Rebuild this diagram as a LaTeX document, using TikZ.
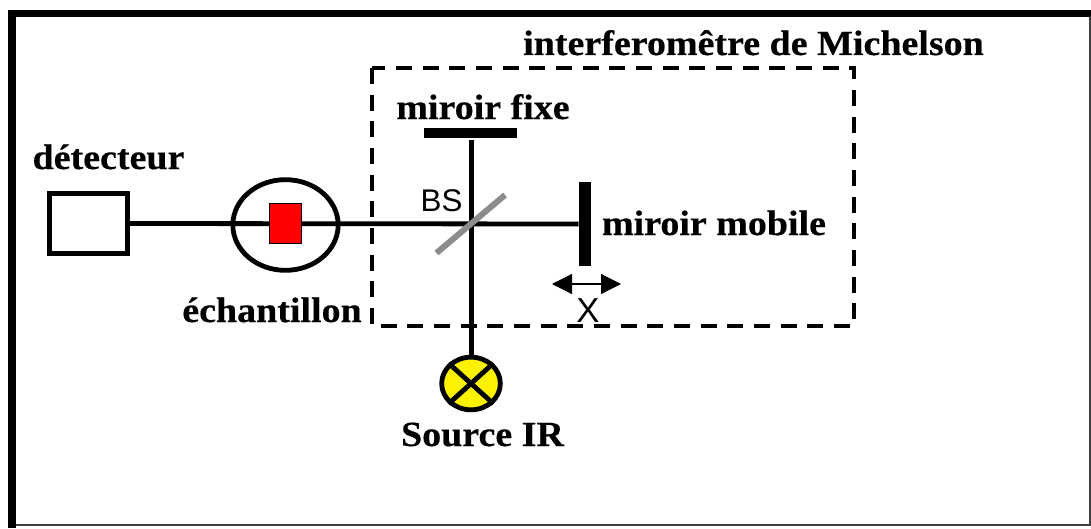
\documentclass[tikz,border=0pt]{standalone}
\usepackage{fontspec}
\setmainfont[FakeStretch=1.075,BoldFeatures={FakeStretch=1.075,FakeBold=0.4}]{Liberation Serif}
\newfontfamily\arialfont{Liberation Sans}
\usetikzlibrary{arrows.meta,shapes.geometric}
\tikzset{
  px/.style={x=0.75pt,y=-0.75pt},
  lab/.style={font=\fontsize{26.5pt}{30pt}\selectfont\bfseries,inner sep=0pt,anchor=base},
  sanslab/.style={font=\fontsize{23.5pt}{26pt}\selectfont\arialfont,inner sep=0pt,anchor=base},
  beam/.style={line width=3.6pt,black},
  blockbox/.style={fill=black,draw=none,inner sep=0pt,minimum width=0pt}
}
\begin{document}
\begin{tikzpicture}[px]
\useasboundingbox (0,0) rectangle (1091,528);
\fill[white] (0,0) rectangle (1091,528);
% outer frame
\draw[line width=1.5pt,black!75] (1090,13) -- (1090,524.5) -- (12,524.5);
\fill[black] (8,10) rectangle (1091,17);
\fill[black] (8,10) rectangle (16,528);
% dashed box
\draw[line width=2.8pt,dash pattern=on 12pt off 8pt] (372,68) rectangle (854,326);
% coordinates and nodes
\node[draw=black,line width=3.6pt,fill=white,minimum width=58.5pt,minimum height=45pt,inner sep=0pt] (det) at (88.5,223.5) {};
\node[blockbox,minimum width=69.5pt,minimum height=7.5pt] (fixe) at (470.5,133) {};
\node[blockbox,minimum width=9pt,minimum height=63pt] (mob) at (585,224) {};
\coordinate (bsa) at (436.5,253);
\coordinate (bsb) at (505,195);
\coordinate (topend) at (471.7,140);
% beams
\draw[beam] (det.east) -- (mob.west);
\node[ellipse,draw=black,line width=3.6pt,fill=yellow,minimum width=44pt,minimum height=39.5pt,inner sep=0pt] (src) at (471,383.5) {};
\draw[beam] (topend) -- (topend |- src.north);
\draw[line width=3.6pt] (src.north west) -- (src.south east);
\draw[line width=3.6pt] (src.north east) -- (src.south west);
% sample
\node[ellipse,draw=black,line width=3.6pt,minimum width=79pt,minimum height=68pt,inner sep=0pt] (ech) at (285.5,225) {};
\node[draw=black,line width=0.8pt,fill=red,minimum width=24pt,minimum height=30.5pt,inner sep=0pt] (cell) at (285.5,223.5) {};
% beam splitter
\draw[line width=4.5pt,black!45] (bsa) -- (bsb);
% arrow
\coordinate (xa) at (552,284);
\coordinate (xb) at (621,284);
\draw[line width=0.9pt,{Triangle[length=15pt,width=15pt]}-{Triangle[length=15pt,width=15pt]}] (xa) -- (xb);
% labels
\node[lab] (t1) at (753.5,55) {interferomêtre de Michelson};
\node[lab] (t2) at (483,119) {miroir fixe};
\node[lab] (t3) at (108.5,169) {détecteur};
\node[lab] (t4) at (272,322) {échantillon};
\node[lab] (t5) at (714,235) {miroir mobile};
\node[lab] (t6) at (482.5,446) {Source IR};
\node[sanslab] (t7) at (441.5,211) {BS};
\node[sanslab,font=\fontsize{26pt}{28pt}\selectfont\arialfont] (t8) at (588,322) {X};
\end{tikzpicture}
\end{document}
